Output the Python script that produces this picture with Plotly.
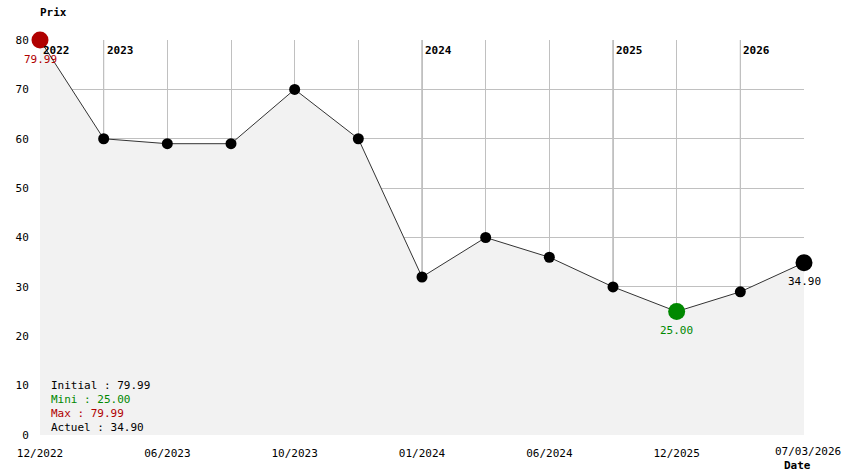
import plotly.graph_objects as go

# ---- data ----
point_index = [0, 1, 2, 3, 4, 5, 6, 7, 8, 9, 10, 11, 12]
prices = [79.99, 60.0, 59.0, 59.0, 70.0, 60.0, 32.0, 40.0, 36.0, 30.0, 25.0, 29.0, 34.90]
tick_labels = ["12/2022", "", "06/2023", "", "10/2023", "", "01/2024", "",
               "06/2024", "", "12/2025", "", ""]
last_label = "07/03/2026"
year_positions = [0, 1, 6, 9, 11]
year_labels = ["2022", "2023", "2024", "2025", "2026"]
y_ticks = [0, 10, 20, 30, 40, 50, 60, 70, 80]

initial_price = 79.99
min_price = 25.00
max_price = 79.99
current_price = 34.90
min_idx = 10
max_idx = 0
cur_idx = 12

FONT = "DejaVu Sans Mono"
RED = "#b00000"
GREEN = "#008800"

# plot area in pixels
L, R, T, B = 40, 804, 40, 435
PW, PH = R - L, B - T


def px(x):
    return (x - L) / PW


def py(y):
    return (B - y) / PH


fig = go.Figure()

# fill + line
fig.add_trace(go.Scatter(
    x=point_index, y=prices, mode="lines+markers",
    line=dict(color="#333333", width=1),
    fill="tozeroy", fillcolor="#f2f2f2",
    marker=dict(color="black", size=11),
    hoverinfo="skip", showlegend=False, cliponaxis=False,
))

# special markers
fig.add_trace(go.Scatter(
    x=[point_index[max_idx], point_index[min_idx], point_index[cur_idx]],
    y=[prices[max_idx], prices[min_idx], prices[cur_idx]],
    mode="markers",
    marker=dict(color=[RED, GREEN, "black"], size=17),
    hoverinfo="skip", showlegend=False, cliponaxis=False,
))

shapes = []
for xp in year_positions:
    shapes.append(dict(type="line", xref="x", yref="paper", x0=xp, x1=xp, y0=0, y1=1,
                       line=dict(color="#999999", width=1), layer="below"))

annotations = []
for xp, lab in zip(year_positions, year_labels):
    annotations.append(dict(x=xp, y=1, xref="x", yref="paper", text="<b>%s</b>" % lab,
                            showarrow=False, xanchor="left", yanchor="top",
                            xshift=1, yshift=-2, font=dict(family=FONT, size=11, color="black")))

# value labels
for idx, val, col in [(max_idx, max_price, RED), (min_idx, min_price, GREEN), (cur_idx, current_price, "black")]:
    annotations.append(dict(x=point_index[idx], y=val, xref="x", yref="y", text="%.2f" % val,
                            showarrow=False, xanchor="center", yanchor="middle", yshift=-19,
                            font=dict(family=FONT, size=11, color=col)))

# summary text
summary = [("Initial : %.2f" % initial_price, "black"),
           ("Mini : %.2f" % min_price, GREEN),
           ("Max : %.2f" % max_price, RED),
           ("Actuel : %.2f" % current_price, "black")]
for i, (txt, col) in enumerate(summary):
    ypix = 385 + i * 14.3
    annotations.append(dict(x=px(49), y=py(ypix), xref="paper", yref="paper", text=txt,
                            showarrow=False, xanchor="left", yanchor="middle",
                            font=dict(family=FONT, size=11, color=col)))

annotations.append(dict(x=px(53), y=py(12), xref="paper", yref="paper", text="<b>Prix</b>",
                        showarrow=False, xanchor="center", yanchor="middle",
                        font=dict(family=FONT, size=11, color="black")))
annotations.append(dict(x=px(797), y=py(465), xref="paper", yref="paper",
                        text="<b>Date</b>", showarrow=False, xanchor="center", yanchor="middle",
                        font=dict(family=FONT, size=11, color="black")))
annotations.append(dict(x=px(843), y=py(451), xref="paper", yref="paper",
                        text=last_label, showarrow=False, xanchor="right", yanchor="middle",
                        font=dict(family=FONT, size=11, color="black")))

fig.update_layout(
    width=844, height=474,
    margin=dict(l=L, r=844 - R, t=T, b=474 - B, autoexpand=False),
    paper_bgcolor="white", plot_bgcolor="white",
    shapes=shapes, annotations=annotations,
    font=dict(family=FONT, size=11, color="black"),
    xaxis=dict(range=[0, 12], tickmode="array", tickvals=point_index, ticktext=tick_labels,
               showgrid=True, gridcolor="#c0c0c0", gridwidth=1, zeroline=False,
               showline=False, ticks="outside", ticklen=8, tickcolor="rgba(0,0,0,0)",
               tickfont=dict(family=FONT, size=11, color="black")),
    yaxis=dict(range=[0, 80], tickmode="array", tickvals=y_ticks,
               showgrid=True, gridcolor="#c0c0c0", gridwidth=1, zeroline=False,
               showline=False, ticks="outside", ticklen=8, tickcolor="rgba(0,0,0,0)",
               tickfont=dict(family=FONT, size=11, color="black")),
)

fig.write_html("out.html", config={"displayModeBar": False},
               post_script="document.body.style.margin='0';document.body.style.overflow='hidden';")
